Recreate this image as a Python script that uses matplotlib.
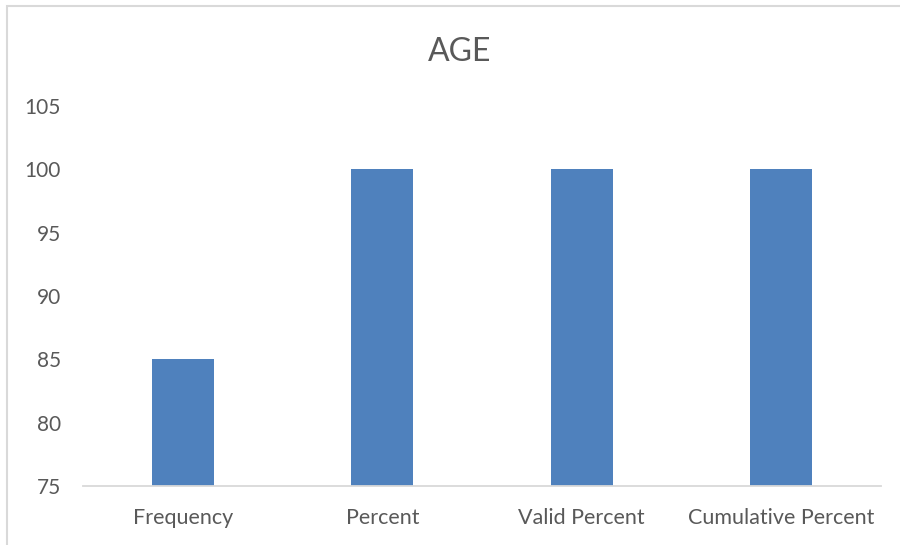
import matplotlib.pyplot as plt
from matplotlib.patches import Rectangle

# data
categories = ["Frequency", "Percent", "Valid Percent", "Cumulative Percent"]
values = [85, 100, 100, 100]
y_ticks = [75, 80, 85, 90, 95, 100, 105]

plt.rcParams['font.family'] = ['Lato', 'DejaVu Sans']
text_color = "#595959"

fig = plt.figure(figsize=(9, 5.45), dpi=100)
ax = fig.add_axes([83 / 900, 59 / 545, (881 - 83) / 900, (486 - 106) / 545])

x = range(len(categories))
ax.bar(x, values, width=0.31, color="#4f81bd", zorder=2)

ax.set_xlim(-0.5, len(categories) - 0.5)
ax.set_ylim(75, 105)
ax.set_yticks(y_ticks)
ax.set_xticks(list(x))
ax.set_xticklabels(categories)

for s in ["top", "right", "left"]:
    ax.spines[s].set_visible(False)
ax.spines["bottom"].set_color("#d9d9d9")
ax.spines["bottom"].set_linewidth(1.3)
ax.tick_params(axis="both", length=0, colors=text_color)
ax.tick_params(axis="y", pad=16, labelsize=15)
ax.tick_params(axis="x", pad=16, labelsize=15.5)

fig.text(0.511, 0.905, "AGE", ha="center", va="center", fontsize=23, color=text_color)

# outer chart border (only top/left visible in reference)
fig.patches.append(Rectangle((6.5 / 900, -0.1), 1.2, (545 - 5.5) / 545 + 0.1,
                             transform=fig.transFigure, fill=False,
                             edgecolor="#d9d9d9", linewidth=1.5))

fig.savefig("out.png", dpi=100)
